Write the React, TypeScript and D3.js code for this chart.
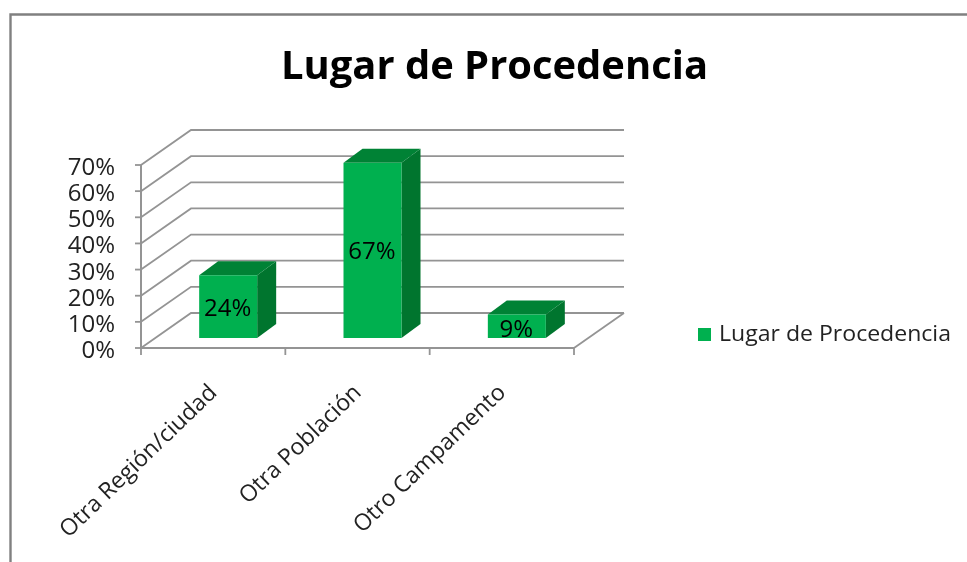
import React from "react";
import * as d3 from "d3";

const categories = ["Otra Región/ciudad", "Otra Población", "Otro Campamento"];
const values = [24, 67, 9];
const valueLabels = ["24%", "67%", "9%"];
const yTicks = [0, 10, 20, 30, 40, 50, 60, 70];
const seriesName = "Lugar de Procedencia";
const title = "Lugar de Procedencia";

const FONT = "'Open Sans', sans-serif";
const GRID = "#949494";
const FRONT = "#00b050";
const TOP = "#008236";
const SIDE = "#00752f";

const depthX = 50;
const depthY = -35;
const y = d3.scaleLinear().domain([0, 70]).range([348, 165]);
const x = d3.scaleBand<string>().domain(categories).range([141, 574]).paddingInner(0).paddingOuter(0);
const barW = 58;
const barDX = 15;
const barDY = -10;
const dDX = 19;
const dDY = -14;

const poly = (pts: [number, number][]) => d3.line()(pts) + "Z";

export default function App() {
  const [x0, x1] = x.range() as [number, number];
  const band = x.bandwidth();
  return (
    <svg width={967} height={562} style={{ position: "absolute", left: 0, top: 0, background: "#fff" }} fontFamily={FONT}>
      <defs>
        <filter id="soft" x="-5%" y="-5%" width="110%" height="110%">
          <feGaussianBlur stdDeviation="0.5" />
        </filter>
      </defs>
      <g filter="url(#soft)">
        <path d="M10.5,562 V14.5 H967" fill="none" stroke="#808080" strokeWidth={2.4} />
        <text x={494.5} y={79} textAnchor="middle" fontSize={39} fontWeight={700} fill="#000" textLength={427} lengthAdjust="spacingAndGlyphs">{title}</text>

        {yTicks.map((t) => (
          <path key={t} d={d3.line()([[x0, y(t)], [x0 + depthX, y(t) + depthY], [x1 + depthX, y(t) + depthY]]) as string} fill="none" stroke={GRID} strokeWidth={1.8} />
        ))}
        <path d={d3.line()([[x1, y(0)], [x1 + depthX, y(0) + depthY]]) as string} stroke={GRID} strokeWidth={1.8} fill="none" />
        <path d={d3.line()([[x0, y(70)], [x0, y(0)], [x1, y(0)]]) as string} stroke={GRID} strokeWidth={2} fill="none" />
        {yTicks.map((t) => (
          <line key={t} x1={x0 - 6} x2={x0} y1={y(t)} y2={y(t)} stroke={GRID} strokeWidth={1.8} />
        ))}
        {[...categories.map((c) => x(c) as number), x1].map((px, i) => (
          <line key={i} x1={px} x2={px} y1={y(0)} y2={y(0) + 7} stroke={GRID} strokeWidth={1.8} />
        ))}

        {categories.map((c, i) => {
          const l = (x(c) as number) + band / 2 + barDX - barW / 2;
          const r = l + barW;
          const b = y(0) + barDY;
          const t = y(values[i]) + barDY;
          return (
            <g key={c}>
              <path d={poly([[r, b], [r + dDX, b + dDY], [r + dDX, t + dDY], [r, t]])} fill={SIDE} />
              <path d={poly([[l, t], [l + dDX, t + dDY], [r + dDX, t + dDY], [r, t]])} fill={TOP} />
              <rect x={l} y={t} width={barW} height={b - t} fill={FRONT} />
            </g>
          );
        })}
        {categories.map((c, i) => {
          const cx = (x(c) as number) + band / 2 + barDX;
          const labelY = [316, 259, 337][i];
          return (
            <text key={c} x={cx - 0.5} y={labelY} textAnchor="middle" fontSize={24} fill="#000">{valueLabels[i]}</text>
          );
        })}

        {yTicks.map((t) => (
          <text key={t} x={115} y={y(t) + 10} textAnchor="end" fontSize={24} fill="#222">{t}%</text>
        ))}

        {categories.map((c) => {
          const px = (x(c) as number) + band / 2 + 5;
          return (
            <text key={c} transform={`translate(${px},394) rotate(-44)`} textAnchor="end" fontSize={23} fill="#222">{c}</text>
          );
        })}

        <rect x={698} y={328} width={13} height={13} fill={FRONT} />
        <text x={719} y={341} fontSize={21.5} fill="#222" textLength={232} lengthAdjust="spacingAndGlyphs">{seriesName}</text>
      </g>
    </svg>
  );
}
